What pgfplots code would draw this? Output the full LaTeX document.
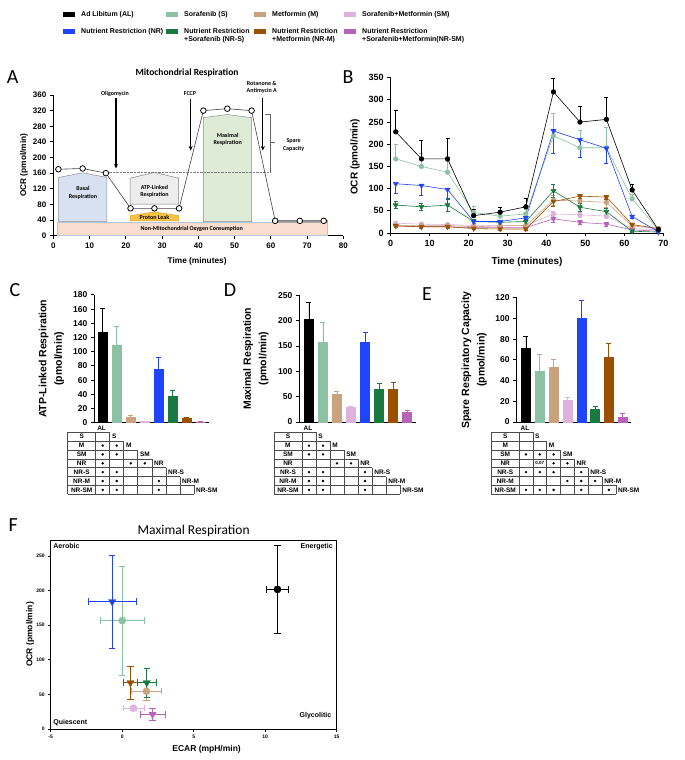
\documentclass[border=0pt]{standalone}
\usepackage{pgfplots}
\pgfplotsset{compat=1.18}
\usepackage{fontspec}
\setmainfont{Liberation Sans}
\newfontfamily\carlito{Carlito}
\usetikzlibrary{arrows.meta}

\definecolor{cAL}{HTML}{000000}
\definecolor{cS}{HTML}{8CC2A4}
\definecolor{cM}{HTML}{C9A37D}
\definecolor{cSM}{HTML}{DDB3DE}
\definecolor{cNR}{HTML}{1F45FC}
\definecolor{cNRS}{HTML}{187A3E}
\definecolor{cNRM}{HTML}{9B5000}
\definecolor{cNRSM}{HTML}{B764B8}
\definecolor{nmfill}{HTML}{F9DDCF}
\definecolor{nmdraw}{HTML}{B4C4DA}
\definecolor{basfill}{HTML}{D8E1F1}
\definecolor{atpfill}{HTML}{EDEDED}
\definecolor{plfill}{HTML}{F6C445}
\definecolor{pldraw}{HTML}{E0A020}
\definecolor{maxfill}{HTML}{DEEBD6}

\newcommand{\fsz}[2]{\fontsize{#1}{#2}\selectfont}

\pgfplotsset{
  gp/.style={
    scale only axis, clip=false,
    axis x line*=bottom, axis y line*=left,
    axis line style={line width=0.9pt, black},
    tick align=outside, major tick length=3.5pt,
    tick style={line width=0.9pt, black},
    /pgf/number format/assume math mode=true,
    /pgf/number format/1000 sep={},
    ticklabel style={font=\bfseries\fsz{8}{9}},
  },
  bl/.style={line width=0.6pt, mark size=2.3pt,
    error bars/y explicit,
    error bars/error bar style={line width=0.6pt},
    error bars/error mark options={rotate=90, mark size=2pt, line width=0.6pt}},
  tri/.style={mark=triangle*, mark size=2.8pt, mark options={rotate=180}},
  tb/.style={scale only axis, clip=false, hide axis, ymin=-7, ymax=0, height=62pt, anchor=south west},
}
\tikzset{
  tline/.style={line width=0.6pt, black!70},
  tt/.style={font=\bfseries\fsz{6.5}{7.5}, inner sep=0pt},
  ann/.style={font=\carlito\bfseries\fsz{6}{7.5}, align=center, inner sep=0pt},
}

\newcommand{\bbar}[4]{%
  \addplot[ybar, bar width=9pt, bar shift=0pt, fill=#1, draw=#1, line width=0.4pt,
    error bars/y dir=plus, error bars/y explicit,
    error bars/error bar style={#1, line width=0.8pt},
    error bars/error mark options={rotate=90, #1, mark size=2.5pt, line width=0.8pt}]
    coordinates {(#2,#3) +- (0,#4)};}

\newcommand{\tgrid}{%
 \draw[tline] (axis cs:-1.5,0) -- (axis cs:1.5,0);
 \draw[tline] (axis cs:-1.5,-1) -- (axis cs:2.5,-1);
 \draw[tline] (axis cs:-1.5,-2) -- (axis cs:3.5,-2);
 \draw[tline] (axis cs:-1.5,-3) -- (axis cs:4.5,-3);
 \draw[tline] (axis cs:-1.5,-4) -- (axis cs:5.5,-4);
 \draw[tline] (axis cs:-1.5,-5) -- (axis cs:6.5,-5);
 \draw[tline] (axis cs:-1.5,-6) -- (axis cs:7.5,-6);
 \draw[tline] (axis cs:-1.5,-7) -- (axis cs:7.5,-7);
 \draw[tline] (axis cs:-1.5,0) -- (axis cs:-1.5,-7);
 \draw[tline] (axis cs:0.5,0) -- (axis cs:0.5,-7);
 \draw[tline] (axis cs:1.5,0) -- (axis cs:1.5,-7);
 \draw[tline] (axis cs:2.5,-1) -- (axis cs:2.5,-7);
 \draw[tline] (axis cs:3.5,-2) -- (axis cs:3.5,-7);
 \draw[tline] (axis cs:4.5,-3) -- (axis cs:4.5,-7);
 \draw[tline] (axis cs:5.5,-4) -- (axis cs:5.5,-7);
 \draw[tline] (axis cs:6.5,-5) -- (axis cs:6.5,-7);
 \draw[tline] (axis cs:7.5,-6) -- (axis cs:7.5,-7);
 \node[tt] at (axis cs:-0.5,-0.5) {S};
 \node[tt] at (axis cs:-0.5,-1.5) {M};
 \node[tt] at (axis cs:-0.5,-2.5) {SM};
 \node[tt] at (axis cs:-0.5,-3.5) {NR};
 \node[tt] at (axis cs:-0.5,-4.5) {NR-S};
 \node[tt] at (axis cs:-0.5,-5.5) {NR-M};
 \node[tt] at (axis cs:-0.5,-6.5) {NR-SM};
 \node[tt, anchor=west] at (axis cs:0.6,0.5) {AL};
 \node[tt, anchor=west] at (axis cs:1.65,-0.5) {S};
 \node[tt, anchor=west] at (axis cs:2.65,-1.5) {M};
 \node[tt, anchor=west] at (axis cs:3.65,-2.5) {SM};
 \node[tt, anchor=west] at (axis cs:4.65,-3.5) {NR};
 \node[tt, anchor=west] at (axis cs:5.65,-4.5) {NR-S};
 \node[tt, anchor=west] at (axis cs:6.65,-5.5) {NR-M};
 \node[tt, anchor=west] at (axis cs:7.65,-6.5) {NR-SM};
}

\begin{document}
\begin{tikzpicture}[x=1pt, y=1pt]
\path[use as bounding box] (0,0) rectangle (685,760);

% ---------------- Legend ----------------
\begin{scope}[every node/.style={font=\bfseries\fsz{7}{8.5}, inner sep=0pt, align=left}]
\fill[cAL] (63,742.5) rectangle (75,747.5);  \node[anchor=west] at (81,745) {Ad Libitum (AL)};
\fill[cS] (166,742.5) rectangle (178,747.5); \node[anchor=west] at (184,745) {Sorafenib (S)};
\fill[cM] (254,742.5) rectangle (266,747.5); \node[anchor=west] at (272,745) {Metformin (M)};
\fill[cSM] (344,742.5) rectangle (356,747.5); \node[anchor=west] at (362,745) {Sorafenib+Metformin (SM)};
\fill[cNR] (63,725.5) rectangle (75,730.5);  \node[anchor=north west] at (81,732) {Nutrient Restriction (NR)};
\fill[cNRS] (166,725.5) rectangle (178,730.5); \node[anchor=north west] at (184,732) {Nutrient Restriction\\+Sorafenib (NR-S)};
\fill[cNRM] (254,725.5) rectangle (266,730.5); \node[anchor=north west] at (272,732) {Nutrient Restriction\\+Metformin (NR-M)};
\fill[cNRSM] (344,725.5) rectangle (356,730.5); \node[anchor=north west] at (362,732) {Nutrient Restriction\\+Sorafenib+Metformin(NR-SM)};
\end{scope}

% panel letters and titles
\begin{scope}[every node/.style={font=\carlito\fsz{20}{22}, inner sep=0pt}]
\node at (12.7,683.3) {A};
\node at (348,683.3) {B};
\node at (15,470) {C};
\node at (230,470) {D};
\node at (427,466) {E};
\node at (13.3,235) {F};
\end{scope}
\node[font=\carlito\bfseries\fsz{9.5}{11}, inner sep=0pt] at (187,687.3) {Mitochondrial Respiration};
\node[font=\carlito\fsz{13.5}{15}, inner sep=0pt] at (193.7,229) {Maximal Respiration};

% ---------------- Panel A ----------------
\begin{axis}[gp, at={(53.3pt,524.3pt)}, anchor=south west, width=290pt, height=140.7pt,
  xmin=0, xmax=80, ymin=0, ymax=360, xtick={0,10,...,80}, ytick={0,40,...,360},
  xlabel={Time (minutes)}, ylabel={OCR (pmol/min)},
  label style={font=\bfseries\fsz{8.3}{10}},
  xlabel style={at={(axis description cs:0.496,-0.18)}, anchor=center},
  ylabel style={at={(axis description cs:-0.101,0.5)}, anchor=center}]
\addplot[fill=nmfill, draw=nmdraw, line width=0.7pt] coordinates {(1,0) (75.5,0) (75.5,34) (1,34)} -- cycle;
\addplot[fill=black!35, draw=black!35] coordinates {(62,34) (75.5,34) (75.5,39) (62,39)} -- cycle;
\addplot[fill=basfill, draw=black!45, line width=0.5pt] coordinates {(1.5,36) (1.5,149) (8.1,161) (14.8,149) (14.8,36)} -- cycle;
\addplot[fill=atpfill, draw=black!50, line width=0.5pt] coordinates {(21.2,81) (21.2,147) (27.9,162) (34.6,147) (34.6,81)} -- cycle;
\addplot[fill=plfill, draw=pldraw, line width=0.5pt] coordinates {(21.2,38) (21.2,51) (27.9,61) (34.6,51) (34.6,38)} -- cycle;
\addplot[fill=maxfill, draw=black!45, line width=0.5pt] coordinates {(41.4,36) (41.4,302) (48,310) (54.7,302) (54.7,36)} -- cycle;
\addplot[densely dotted, black!50, line width=0.4pt] coordinates {(14.5,162) (59.8,162)};
\addplot[black!60, line width=0.5pt] coordinates {(58.4,310) (59.8,310) (59.8,162)};
\addplot[black!60, line width=0.5pt] coordinates {(59.8,238) (61.2,238)};
\addplot[black!75, line width=0.6pt, mark=*, mark size=2.8pt, mark options={fill=white, draw=black, line width=0.8pt}]
  coordinates {(1.4,170) (8.1,172) (14.5,160) (21.3,70) (27.9,70) (34.7,70) (41.4,320) (48,325) (54.7,320) (61.2,38) (68,38) (74.6,38)};
\draw[-{Stealth[length=4.5pt,width=4pt]}, line width=1.1pt] (axis cs:17.3,352) -- (axis cs:17.3,172);
\draw[-{Stealth[length=4.5pt,width=4pt]}, line width=1.1pt] (axis cs:37.9,350) -- (axis cs:37.9,218);
\draw[-{Stealth[length=4.5pt,width=4pt]}, line width=1.1pt] (axis cs:57.8,352) -- (axis cs:57.8,218);
\node[ann] at (axis cs:17,364) {Oligomycin};
\node[ann] at (axis cs:37.7,364) {FCCP};
\node[ann] at (axis cs:57.5,379) {Rotanone \&\\Antimycin A};
\node[ann] at (axis cs:8.2,110) {Basal\\Respiration};
\node[ann] at (axis cs:27.9,114) {ATP-Linked\\Respiration};
\node[ann] at (axis cs:27.9,46) {Proton Leak};
\node[ann] at (axis cs:48.1,246) {Maximal\\Respiration};
\node[ann] at (axis cs:38.2,17) {Non-Mitochondrial Oxygen Consumption};
\node[ann] at (axis cs:66.3,232) {Spare\\Capacity};
\end{axis}

% ---------------- Panel B ----------------
\begin{axis}[gp, at={(390.7pt,527pt)}, anchor=south west, width=272.6pt, height=155.3pt,
  xmin=0, xmax=70, ymin=0, ymax=350, xtick={0,10,...,70}, ytick={0,50,...,350},
  ticklabel style={font=\bfseries\fsz{9}{10}},
  xlabel={Time (minutes)}, ylabel={OCR (pmol/min)},
  label style={font=\bfseries\fsz{10}{12}},
  xlabel style={at={(axis description cs:0.5,-0.185)}, anchor=center},
  ylabel style={at={(axis description cs:-0.131,0.49)}, anchor=center}]
\addplot[bl, color=cSM, mark=*, error bars/y dir=both] coordinates {(1.3,22)+-(0,3) (7.9,20)+-(0,3) (14.6,19)+-(0,3) (21.3,17)+-(0,2) (28.1,17)+-(0,2) (34.7,17)+-(0,2) (41.8,43)+-(0,6) (48.6,41)+-(0,5) (55.4,38)+-(0,5) (62.0,10)+-(0,2) (68.7,7)+-(0,1)};
\addplot[bl, color=cNRSM, tri, error bars/y dir=both] coordinates {(1.3,16)+-(0,3) (7.9,14)+-(0,2) (14.6,14)+-(0,2) (21.3,12)+-(0,2) (28.1,12)+-(0,2) (34.7,12)+-(0,2) (41.8,32)+-(0,7) (48.6,24)+-(0,4) (55.4,20)+-(0,4) (62.0,7)+-(0,2) (68.7,4)+-(0,1)};
\addplot[bl, color=cM, mark=*, error bars/y dir=both] coordinates {(1.3,17)+-(0,3) (7.9,17)+-(0,3) (14.6,17)+-(0,3) (21.3,14)+-(0,3) (28.1,16)+-(0,3) (34.7,17)+-(0,3) (41.8,74)+-(0,12) (48.6,72)+-(0,10) (55.4,69)+-(0,10) (62.0,16)+-(0,3) (68.7,10)+-(0,2)};
\addplot[bl, color=cNRM, tri, error bars/y dir=both] coordinates {(1.3,16)+-(0,3) (7.9,14)+-(0,3) (14.6,14)+-(0,3) (21.3,10)+-(0,2) (28.1,9)+-(0,2) (34.7,9)+-(0,2) (41.8,71)+-(0,10) (48.6,83)+-(0,5) (55.4,81)+-(0,5) (62.0,19)+-(0,3) (68.7,10)+-(0,2)};
\addplot[bl, color=cNRS, tri, error bars/y dir=both] coordinates {(1.3,63)+-(0,8) (7.9,59)+-(0,8) (14.6,63)+-(0,13) (21.3,26)+-(0,4) (28.1,24)+-(0,4) (34.7,26)+-(0,4) (41.8,95)+-(0,14) (48.6,58)+-(0,8) (55.4,48)+-(0,8) (62.0,4)+-(0,2) (68.7,2)+-(0,1)};
\addplot[bl, color=cS, mark=*, error bars/y dir=plus] coordinates {(1.3,167)+-(0,33) (7.9,150)+-(0,30) (14.6,137)+-(0,25) (21.3,46)+-(0,15) (28.1,38)+-(0,10) (34.7,43)+-(0,10) (41.8,219)+-(0,50) (48.6,192)+-(0,39) (55.4,192)+-(0,47) (62.0,77)+-(0,10) (68.7,7)+-(0,3)};
\addplot[bl, color=cNR, tri, error bars/y dir=minus] coordinates {(1.3,111)+-(0,22) (7.9,107)+-(0,21) (14.6,98)+-(0,20) (21.3,26)+-(0,4) (28.1,26)+-(0,4) (34.7,34)+-(0,6) (41.8,230)+-(0,50) (48.6,210)+-(0,40) (55.4,191)+-(0,33) (62.0,37)+-(0,5) (68.7,3)+-(0,2)};
\addplot[bl, color=black, mark=*, error bars/y dir=plus] coordinates {(1.3,228)+-(0,49) (7.9,167)+-(0,41) (14.6,167)+-(0,46) (21.3,39)+-(0,15) (28.1,47)+-(0,12) (34.7,59)+-(0,19) (41.8,318)+-(0,30) (48.6,250)+-(0,35) (55.4,256)+-(0,50) (62.0,97)+-(0,13) (68.7,8)+-(0,4)};
\end{axis}

% ---------------- Panel C ----------------
\begin{axis}[gp, at={(94.3pt,337.3pt)}, anchor=south west, width=115pt, height=127.8pt,
  xmin=0.4, xmax=8.6, ymin=0, ymax=180, xtick=\empty, ytick={0,20,...,180},
  ticklabel style={font=\bfseries\fsz{8.5}{10}},
  ylabel={ATP-Linked Respiration\\(pmol/min)},
  ylabel style={at={(axis description cs:-0.372,0.5)}, anchor=center, align=center, font=\bfseries\fsz{10.5}{15.5}}]
\bbar{cAL}{1}{127}{34}
\bbar{cS}{2}{109}{26}
\bbar{cM}{3}{8}{2}
\bbar{cSM}{4}{2}{0.5}
\bbar{cNR}{5}{75}{17}
\bbar{cNRS}{6}{38}{7}
\bbar{cNRM}{7}{7}{1}
\bbar{cNRSM}{8}{1}{0.3}
\end{axis}
\begin{axis}[tb, at={(94.3pt,265.7pt)}, width=115pt, xmin=0.4, xmax=8.6]
\tgrid
\addplot[only marks, mark=*, mark size=1pt, black] coordinates {(1,-1.5) (2,-1.5) (1,-2.5) (2,-2.5) (1,-3.5) (3,-3.5) (4,-3.5) (1,-4.5) (2,-4.5) (1,-5.5) (2,-5.5) (5,-5.5) (1,-6.5) (2,-6.5) (5,-6.5)};
\end{axis}

% ---------------- Panel D ----------------
\begin{axis}[gp, at={(299.3pt,338pt)}, anchor=south west, width=116.7pt, height=126.7pt,
  xmin=0.31, xmax=8.64, ymin=0, ymax=250, xtick=\empty, ytick={0,50,...,250},
  ticklabel style={font=\bfseries\fsz{8.5}{10}},
  ylabel={Maximal Respiration\\(pmol/min)},
  ylabel style={at={(axis description cs:-0.371,0.5)}, anchor=center, align=center, font=\bfseries\fsz{10.5}{15.5}}]
\bbar{cAL}{1}{202}{33}
\bbar{cS}{2}{157}{39}
\bbar{cM}{3}{54}{7}
\bbar{cSM}{4}{29}{2}
\bbar{cNR}{5}{158}{18}
\bbar{cNRS}{6}{65}{11}
\bbar{cNRM}{7}{65}{13}
\bbar{cNRSM}{8}{19}{4}
\end{axis}
\begin{axis}[tb, at={(299.3pt,265.7pt)}, width=116.7pt, xmin=0.31, xmax=8.64]
\tgrid
\addplot[only marks, mark=*, mark size=1pt, black] coordinates {(1,-1.5) (2,-1.5) (1,-2.5) (2,-2.5) (3,-3.5) (4,-3.5) (1,-4.5) (2,-4.5) (5,-4.5) (1,-5.5) (2,-5.5) (5,-5.5) (1,-6.5) (2,-6.5) (5,-6.5)};
\end{axis}

% ---------------- Panel E ----------------
\begin{axis}[gp, at={(516.7pt,338pt)}, anchor=south west, width=114.3pt, height=124.2pt,
  xmin=0.33, xmax=8.6, ymin=0, ymax=120, xtick=\empty, ytick={0,20,...,120},
  ticklabel style={font=\bfseries\fsz{8.5}{10}},
  ylabel={Spare Respiratory Capacity\\(pmol/min)},
  ylabel style={at={(axis description cs:-0.373,0.5)}, anchor=center, align=center, font=\bfseries\fsz{10.5}{15.5}}]
\bbar{cAL}{1}{71}{12}
\bbar{cS}{2}{49}{16}
\bbar{cM}{3}{53}{7}
\bbar{cSM}{4}{21}{3}
\bbar{cNR}{5}{100}{17}
\bbar{cNRS}{6}{12}{3}
\bbar{cNRM}{7}{63}{13}
\bbar{cNRSM}{8}{5}{3}
\end{axis}
\begin{axis}[tb, at={(516.7pt,265.7pt)}, width=114.3pt, xmin=0.33, xmax=8.6]
\tgrid
\addplot[only marks, mark=*, mark size=1pt, black] coordinates {(1,-2.5) (2,-2.5) (3,-2.5) (3,-3.5) (4,-3.5) (1,-4.5) (2,-4.5) (3,-4.5) (5,-4.5) (4,-5.5) (5,-5.5) (6,-5.5) (1,-6.5) (2,-6.5) (3,-6.5) (5,-6.5) (7,-6.5)};
\node[font=\bfseries\fsz{4.5}{5}, inner sep=0pt] at (axis cs:2,-3.5) {0.07};
\end{axis}

% ---------------- Panel F ----------------
\begin{axis}[scale only axis, clip=false, at={(50.7pt,31pt)}, anchor=south west,
  width=286pt, height=189pt, xmin=-5, xmax=15, ymin=0, ymax=273,
  axis line style={line width=0.8pt}, tick pos=left, tick align=outside,
  major tick length=2.5pt, tick style={line width=0.7pt, black},
  xtick={-5,0,5,10,15}, ytick={0,50,100,150,200,250},
  /pgf/number format/assume math mode=true,
  ticklabel style={font=\bfseries\fsz{5}{6}},
  xlabel={ECAR (mpH/min)}, ylabel={OCR (pmol/min)},
  label style={font=\bfseries\fsz{8.5}{10}},
  xlabel style={at={(axis description cs:0.545,-0.106)}, anchor=center},
  ylabel style={at={(axis description cs:-0.072,0.5)}, anchor=center},
  fe/.style={only marks, error bars/x dir=both, error bars/x explicit, error bars/y dir=both, error bars/y explicit,
    error bars/error bar style={line width=0.8pt},
    error bars/error mark options={rotate=90, mark size=3.2pt, line width=0.8pt}},
  fc/.style={mark=*, mark size=3.6pt},
  ft/.style={mark=triangle*, mark size=4.2pt, mark options={rotate=180}}]
\addplot[fe, fc, color=cS] coordinates {(0,156.5) +- (1.52,79)};
\addplot[fe, ft, color=cNR] coordinates {(-0.7,184) +- (1.68,67)};
\addplot[fe, fc, color=cM] coordinates {(1.7,54.5) +- (1.05,13)};
\addplot[fe, ft, color=cNRM] coordinates {(0.58,67) +- (0.48,24)};
\addplot[fe, ft, color=cNRS] coordinates {(1.72,67) +- (0.66,21)};
\addplot[fe, fc, color=cSM] coordinates {(0.79,30) +- (0.73,3)};
\addplot[fe, ft, color=cNRSM] coordinates {(2.12,21.2) +- (0.87,8.5)};
\addplot[fe, fc, color=black] coordinates {(10.86,201.6) +- (0.77,64)};
\node[font=\bfseries\fsz{7}{8}, anchor=north west, inner sep=1pt] at (axis description cs:0.005,0.99) {Aerobic};
\node[font=\bfseries\fsz{7}{8}, anchor=north east, inner sep=1pt] at (axis description cs:0.99,0.99) {Energetic};
\node[font=\bfseries\fsz{7}{8}, anchor=west, inner sep=1pt] at (axis description cs:0.005,0.032) {Quiescent};
\node[font=\bfseries\fsz{7}{8}, anchor=east, inner sep=1pt] at (axis description cs:0.985,0.07) {Glycolitic};
\end{axis}
\end{tikzpicture}
\end{document}
